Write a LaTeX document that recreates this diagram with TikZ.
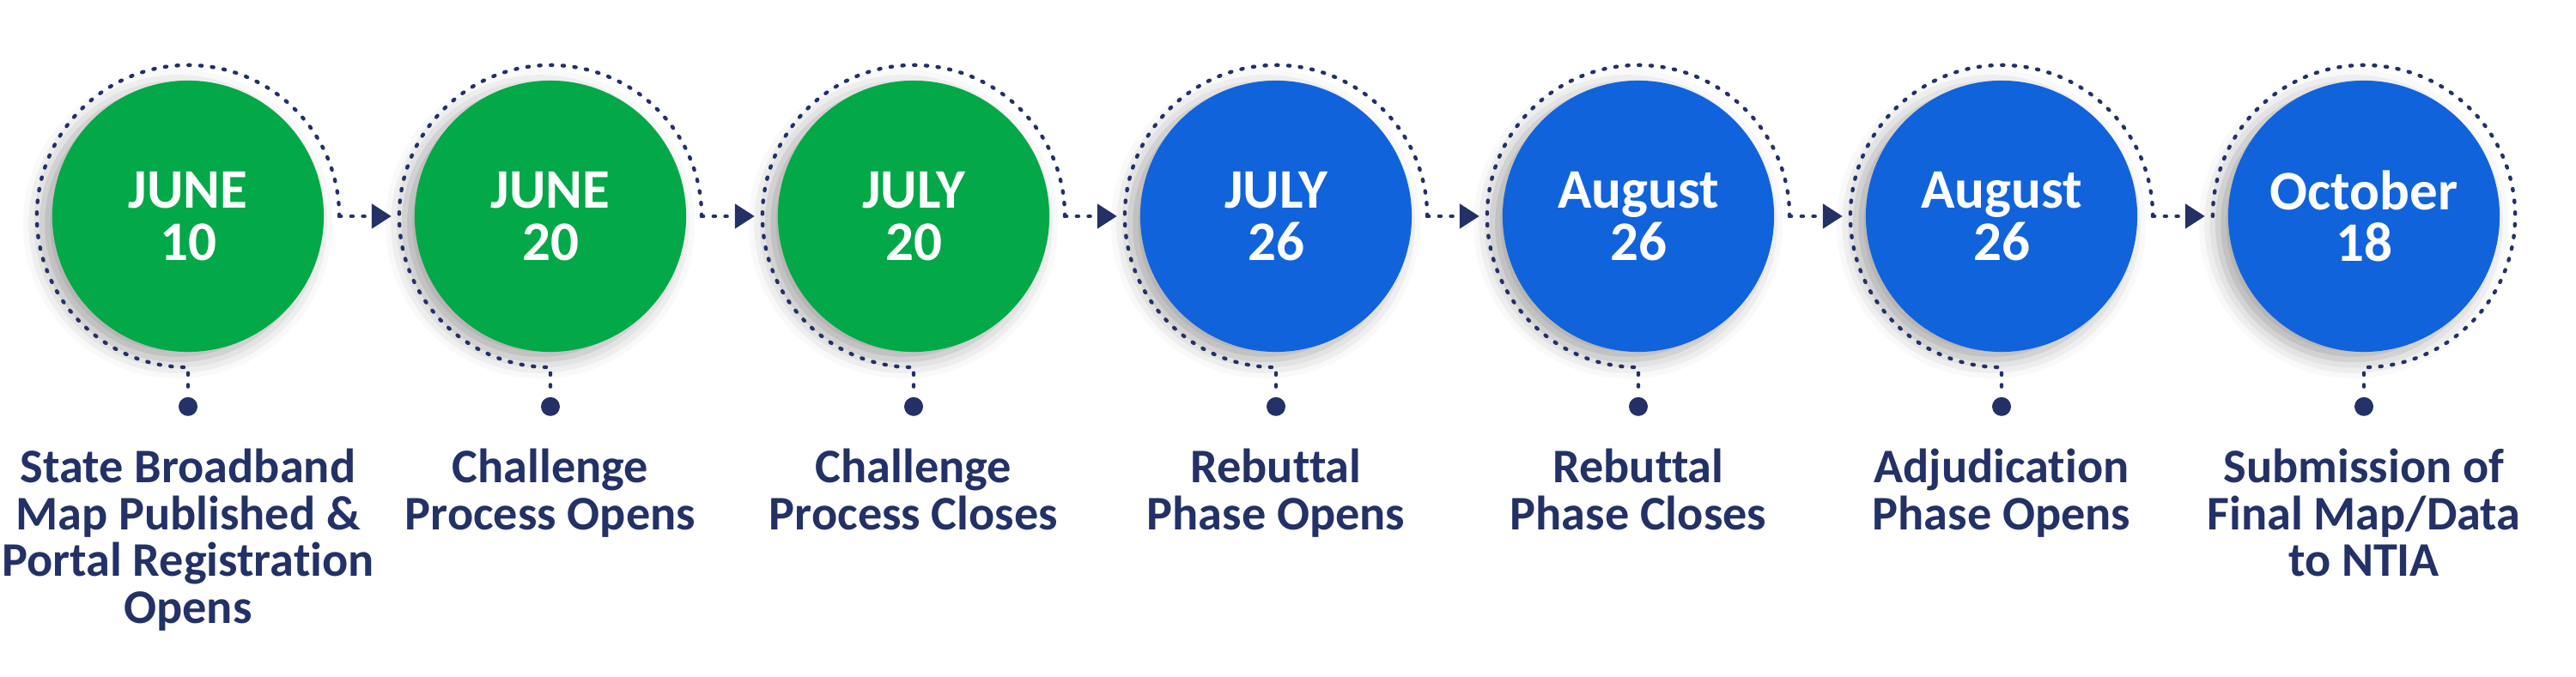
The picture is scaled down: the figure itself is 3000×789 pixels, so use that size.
\documentclass[tikz,border=0pt]{standalone}
\usepackage{fontspec}
\setmainfont{Carlito}[Ligatures=NoCommon]
\usetikzlibrary{positioning, arrows.meta, shadows.blur}
\definecolor{dategreen}{RGB}{3,168,72}
\definecolor{dateblue}{RGB}{17,99,220}
\definecolor{navy}{RGB}{35,49,103}

\begin{document}
\begin{tikzpicture}[x=0.01cm, y=0.01cm,
  datecircle/.style={circle, fill=#1, minimum size=3.16cm, inner sep=0pt, align=center, text=white,
    font=\bfseries\fontsize{18.5}{17.2}\selectfont,
    blur shadow={shadow xshift=-1.2mm, shadow yshift=-0.9mm, shadow blur radius=2.2mm, shadow opacity=35}},
  ring/.style={circle, minimum size=3.52cm, inner sep=0pt, outer sep=0pt},
  dotline/.style={navy, line width=1.25pt, line cap=round, dash pattern=on 0.6pt off 3.3pt},
  arrow/.style={dotline, -{Triangle[length=6.5pt, width=8pt]}, shorten >=2.6pt},
  pindot/.style={circle, fill=navy, minimum size=0.22cm, inner sep=0pt},
  stage/.style={inner sep=0pt, align=center, text=navy, font=\bfseries\fontsize{16}{15.5}\selectfont}
]
\useasboundingbox (0,0) rectangle (3000,-789);

% The date circles
\node[datecircle=dategreen] (d1) at (219,-252) {JUNE\\10};
\node[datecircle=dategreen] (d2) at (641,-252) {JUNE\\20};
\node[datecircle=dategreen] (d3) at (1064,-252) {JULY\\20};
\node[datecircle=dateblue] (d4) at (1486,-252) {JULY\\26};
\node[datecircle=dateblue] (d5) at (1908,-252) {August\\26};
\node[datecircle=dateblue] (d6) at (2331,-252) {August\\26};
\node[datecircle=dateblue] (d7) at (2753,-252) {October\\18};

\node[ring] (ring1) at (d1) {};
\node[ring] (ring2) at (d2) {};
\node[ring] (ring3) at (d3) {};
\node[ring] (ring4) at (d4) {};
\node[ring] (ring5) at (d5) {};
\node[ring] (ring6) at (d6) {};
\node[ring] (ring7) at (d7) {};

\node[pindot, below=0.34cm of ring1] (pin1) {};
\node[pindot, below=0.34cm of ring2] (pin2) {};
\node[pindot, below=0.34cm of ring3] (pin3) {};
\node[pindot, below=0.34cm of ring4] (pin4) {};
\node[pindot, below=0.34cm of ring5] (pin5) {};
\node[pindot, below=0.34cm of ring6] (pin6) {};
\node[pindot, below=0.34cm of ring7] (pin7) {};

\node[stage, below=0.37cm of pin1] (s1) {State Broadband\\Map Published \&\\Portal Registration\\Opens};
\node[stage, below=0.37cm of pin2] (s2) {Challenge\\Process Opens};
\node[stage, below=0.37cm of pin3] (s3) {Challenge\\Process Closes};
\node[stage, below=0.37cm of pin4] (s4) {Rebuttal\\Phase Opens};
\node[stage, below=0.37cm of pin5] (s5) {Rebuttal\\Phase Closes};
\node[stage, below=0.37cm of pin6] (s6) {Adjudication\\Phase Opens};
\node[stage, below=0.37cm of pin7] (s7) {Submission of\\Final Map/Data\\to NTIA};

% dotted rings
\draw[dotline] (ring1.east) arc[start angle=0, end angle=270, radius=1.76cm] -- (pin1);
\draw[dotline] (ring2.east) arc[start angle=0, end angle=270, radius=1.76cm] -- (pin2);
\draw[dotline] (ring3.east) arc[start angle=0, end angle=270, radius=1.76cm] -- (pin3);
\draw[dotline] (ring4.east) arc[start angle=0, end angle=270, radius=1.76cm] -- (pin4);
\draw[dotline] (ring5.east) arc[start angle=0, end angle=270, radius=1.76cm] -- (pin5);
\draw[dotline] (ring6.east) arc[start angle=0, end angle=270, radius=1.76cm] -- (pin6);
\draw[dotline] (ring7.west) arc[start angle=180, end angle=-90, radius=1.76cm] -- (pin7);

\draw[arrow] (ring1.east) -- (ring2.west);
\draw[arrow] (ring2.east) -- (ring3.west);
\draw[arrow] (ring3.east) -- (ring4.west);
\draw[arrow] (ring4.east) -- (ring5.west);
\draw[arrow] (ring5.east) -- (ring6.west);
\draw[arrow] (ring6.east) -- (ring7.west);

\end{tikzpicture}
\end{document}
